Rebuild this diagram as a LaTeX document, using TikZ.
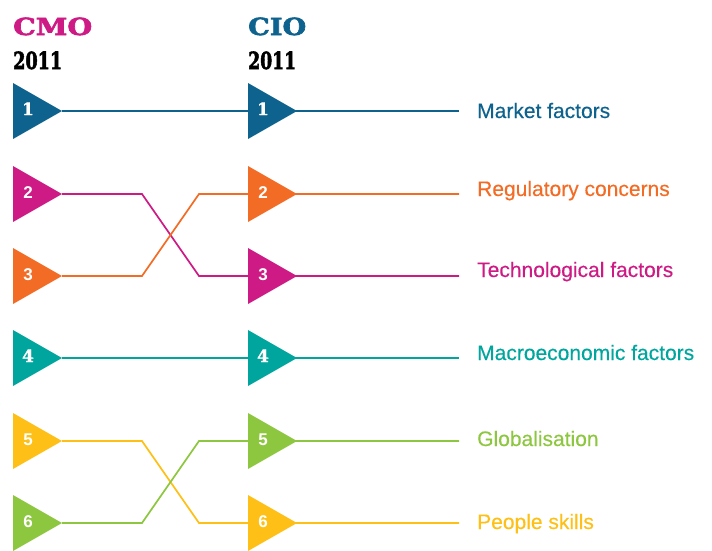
\documentclass[tikz,border=0pt]{standalone}
\usepackage{fontspec}
\setmainfont{Liberation Sans}
\newfontfamily\slab{DejaVu Serif}[BoldFeatures={FakeBold=1.2}]
\newfontfamily\headfont{DejaVu Serif}[BoldFeatures={FakeBold=2.5}]
\newfontfamily\labfont{Liberation Sans}[FakeBold=0.35]
\usetikzlibrary{shapes.geometric,backgrounds,calc}
\definecolor{cblue}{RGB}{14,98,142}
\definecolor{cmag}{RGB}{205,26,132}
\definecolor{corange}{RGB}{243,108,37}
\definecolor{cteal}{RGB}{0,166,157}
\definecolor{cyellow}{RGB}{254,192,22}
\definecolor{cgreen}{RGB}{141,198,63}
\begin{document}
\begin{tikzpicture}[x=1pt,y=-1pt,
  tri/.style={isosceles triangle, isosceles triangle stretches, shape border rotate=0,
    minimum width=56pt, minimum height=49pt, inner sep=0pt, outer sep=0pt, anchor=lower side, draw=none, fill=#1},
  num/.style={text=white, anchor=base, inner sep=0pt, font=\bfseries\fontsize{17}{17}\selectfont},
  snum/.style={text=white, anchor=base, inner sep=0pt, font=\slab\bfseries\fontsize{17}{17}\selectfont},
  lab/.style={anchor=base west, inner sep=0pt, text=#1, font=\labfont\fontsize{21}{21}\selectfont},
  conn/.style={draw=#1, line width=1.7pt},
  head/.style={anchor=base west, inner sep=0pt, text=#1, font=\headfont\bfseries}
]
\useasboundingbox (0,0) rectangle (712,550);

% headers
\node[head=cmag] (hcmo) at (13,35) {\resizebox{79pt}{17.5pt}{CMO}};
\node[head=black] (ycmo) at (13,69) {\resizebox{49pt}{17.5pt}{2011}};
\node[head=cblue] (hcio) at (248,35) {\resizebox{58pt}{17.5pt}{CIO}};
\node[head=black] (ycio) at (248,69) {\resizebox{48pt}{17.5pt}{2011}};

% CMO triangles
\node[tri=cblue]   (a1) at (13,111) {};
\node[tri=cmag]    (a2) at (13,194) {};
\node[tri=corange] (a3) at (13,276) {};
\node[tri=cteal]   (a4) at (13,358) {};
\node[tri=cyellow] (a5) at (13,441) {};
\node[tri=cgreen]  (a6) at (13,523) {};
% CIO triangles
\node[tri=cblue]   (b1) at (248,111) {};
\node[tri=corange] (b2) at (248,194) {};
\node[tri=cmag]    (b3) at (248,276) {};
\node[tri=cteal]   (b4) at (248,358) {};
\node[tri=cgreen]  (b5) at (248,441) {};
\node[tri=cyellow] (b6) at (248,523) {};

% numbers
\node[snum] (na1) at (28,115) {1};
\node[num]  (na2) at (28,198) {2};
\node[num]  (na3) at (28,280) {3};
\node[snum] (na4) at (28,362) {4};
\node[num]  (na5) at (28,445) {5};
\node[num]  (na6) at (28,527) {6};
\node[snum] (nb1) at (263,115) {1};
\node[num]  (nb2) at (263,198) {2};
\node[num]  (nb3) at (263,280) {3};
\node[snum] (nb4) at (263,362) {4};
\node[num]  (nb5) at (263,445) {5};
\node[num]  (nb6) at (263,527) {6};

% labels
\node[lab=cblue]   (l1) at (477,118) {Market factors};
\node[lab=corange] (l2) at (477,196) {Regulatory concerns};
\node[lab=cmag]    (l3) at (477,277) {Technological factors};
\node[lab=cteal]   (l4) at (477,360) {Macroeconomic factors};
\node[lab=cgreen]  (l5) at (477,446) {Globalisation};
\node[lab=cyellow] (l6) at (477,529) {People skills};

\coordinate (e1) at (459,111);
\coordinate (e2) at (459,194);
\coordinate (e3) at (459,276);
\coordinate (e4) at (459,358);
\coordinate (e5) at (459,441);
\coordinate (e6) at (459,523);

\begin{scope}[on background layer]
  \draw[conn=cblue] (a1.apex) -- (e1);
  \draw[conn=cteal] (a4.apex) -- (e4);
  \draw[conn=cmag] (a2.apex) -- ($(a2.apex)+(80,0)$) -- ($(b3.lower side)+(-49,0)$) -- (e3);
  \draw[conn=corange] (a3.apex) -- ($(a3.apex)+(80,0)$) -- ($(b2.lower side)+(-49,0)$) -- (e2);
  \draw[conn=cyellow] (a5.apex) -- ($(a5.apex)+(80,0)$) -- ($(b6.lower side)+(-49,0)$) -- (e6);
  \draw[conn=cgreen] (a6.apex) -- ($(a6.apex)+(80,0)$) -- ($(b5.lower side)+(-49,0)$) -- (e5);
\end{scope}
\end{tikzpicture}
\end{document}
